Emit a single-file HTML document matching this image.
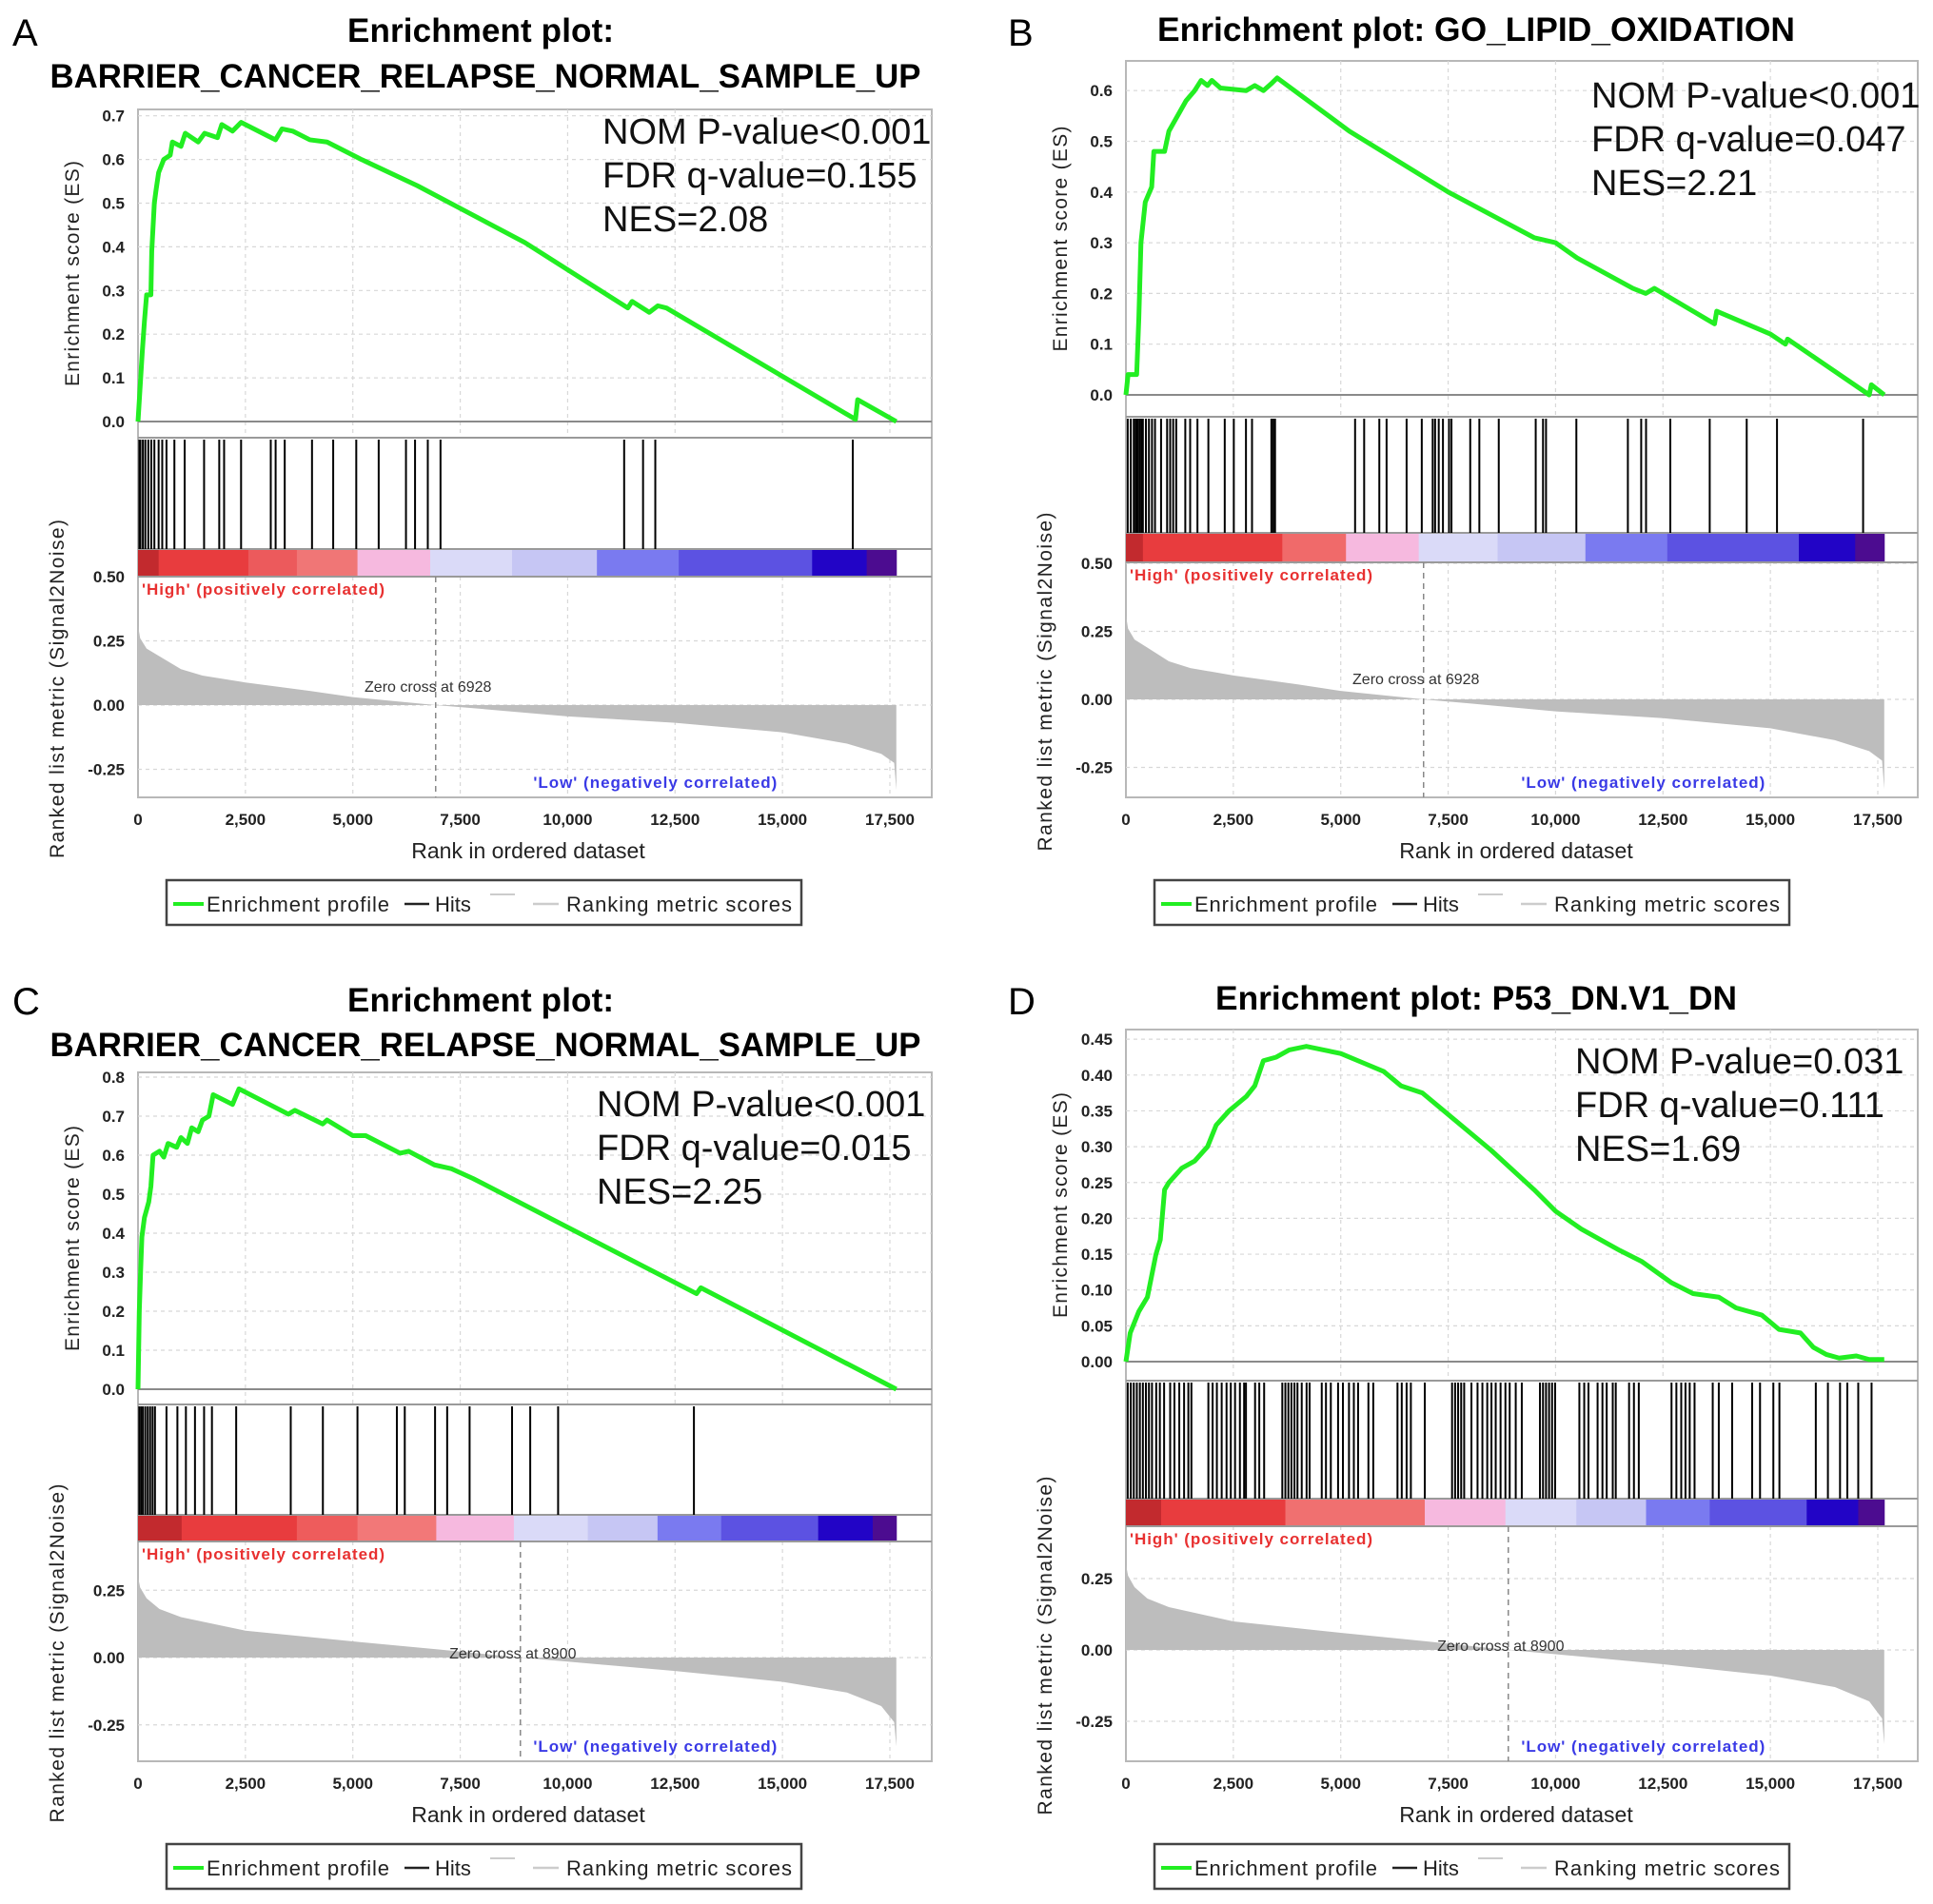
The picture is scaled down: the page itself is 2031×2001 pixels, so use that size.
<!DOCTYPE html>
<html><head><meta charset="utf-8"><style>
html,body{margin:0;padding:0;background:#fff;}
svg{display:block;}
text{font-family:"Liberation Sans",Arial,sans-serif;}
</style></head><body>
<svg id="fig" width="2031" height="2001" viewBox="0 0 2031 2001" xmlns="http://www.w3.org/2000/svg">
<rect x="0" y="0" width="2031" height="2001" fill="#fff"/>
<text x="13" y="48" font-size="40">A</text>
<text x="1059" y="48" font-size="40">B</text>
<text x="13" y="1066" font-size="40">C</text>
<text x="1059" y="1066" font-size="40">D</text>
<text x="505" y="44" font-size="35" font-weight="bold" text-anchor="middle" textLength="280">Enrichment plot:</text>
<text x="510" y="92" font-size="35" font-weight="bold" text-anchor="middle" textLength="915" lengthAdjust="spacingAndGlyphs">BARRIER_CANCER_RELAPSE_NORMAL_SAMPLE_UP</text>
<text x="1551" y="43" font-size="35" font-weight="bold" text-anchor="middle" textLength="670" lengthAdjust="spacingAndGlyphs">Enrichment plot: GO_LIPID_OXIDATION</text>
<text x="505" y="1063" font-size="35" font-weight="bold" text-anchor="middle" textLength="280">Enrichment plot:</text>
<text x="510" y="1110" font-size="35" font-weight="bold" text-anchor="middle" textLength="915" lengthAdjust="spacingAndGlyphs">BARRIER_CANCER_RELAPSE_NORMAL_SAMPLE_UP</text>
<text x="1551" y="1061" font-size="35" font-weight="bold" text-anchor="middle" textLength="548" lengthAdjust="spacingAndGlyphs">Enrichment plot: P53_DN.V1_DN</text>
</svg>
<script>
// ---------- shared axis data ----------
const xTicks = [0, 2500, 5000, 7500, 10000, 12500, 15000, 17500];
const xTickLabels = ['0', '2,500', '5,000', '7,500', '10,000', '12,500', '15,000', '17,500'];

// ---------- Panel A ----------
const esRanksA = [0,50,100,150,200,300,320,380,420,480,600,750,800,1000,1100,1400,1550,1850,1950,2200,2400,3000,3200,3350,3600,4000,4400,4700,5200,6500,9000,11400,11500,11900,12100,12300,16700,16750,17650];
const esValsA  = [0,0.08,0.16,0.23,0.29,0.29,0.39,0.5,0.53,0.57,0.6,0.61,0.64,0.63,0.66,0.64,0.66,0.65,0.68,0.665,0.685,0.655,0.645,0.67,0.665,0.645,0.64,0.625,0.6,0.54,0.41,0.26,0.275,0.25,0.265,0.26,0.005,0.05,0];
const hitsA = [30,56,113,170,240,310,381,480,564,663,847,1086,1538,1891,2004,2399,3090,3203,3415,4050,4543,5080,5602,6237,6448,6745,7041,11315,11755,12040,16636];
const esTicksA = [0,0.1,0.2,0.3,0.4,0.5,0.6,0.7];
const esTickLabelsA = ['0.0','0.1','0.2','0.3','0.4','0.5','0.6','0.7'];
const metricRanksA = [0,50,200,500,1000,1500,2500,4000,5000,6000,6928,8000,10000,12500,15000,16500,17300,17600,17650];
const metricValsA  = [0.31,0.26,0.22,0.19,0.14,0.115,0.088,0.055,0.031,0.015,0,-0.015,-0.044,-0.069,-0.106,-0.15,-0.19,-0.225,-0.33];
const mTicksA = [0.5,0.25,0,-0.25];
const mTickLabelsA = ['0.50','0.25','0.00','-0.25'];
const colorEndsA = [480,2568,3697,5108,6801,8706,10681,12586,15690,16960,17650];
const colorsA = ['#c22a2e','#e83c3e','#ec5a5c','#f07676','#f6b9df','#dadaf8','#c6c6f4','#7a7af0','#5c52e2','#2204c6','#4c0c90'];
const statsA = ['NOM P-value<0.001','FDR q-value=0.155','NES=2.08'];

// ---------- Panel B ----------
const esRanksB = [0,50,250,300,350,450,600,650,900,1000,1200,1400,1600,1750,1900,2000,2200,2800,3000,3200,3400,3520,5200,7500,9500,10000,10500,11800,12100,12300,13500,13700,13750,15000,15350,15400,17300,17350,17650];
const esValsB  = [0,0.04,0.04,0.15,0.3,0.38,0.41,0.48,0.48,0.52,0.55,0.58,0.6,0.62,0.61,0.62,0.605,0.6,0.61,0.6,0.615,0.625,0.52,0.4,0.31,0.3,0.27,0.21,0.2,0.21,0.15,0.14,0.165,0.12,0.1,0.11,0,0.02,0];
const hitsB = [42,113,183,226,254,282,325,367,395,466,536,607,677,818,959,1030,1100,1171,1382,1495,1665,1919,2300,2511,2794,2935,3386,3429,3471,5334,5545,5898,6067,6533,6886,7140,7196,7281,7379,7520,7577,8014,8226,8678,9538,9708,9778,10484,11683,11993,12106,12671,13588,14449,15154,17158];
const esTicksB = [0,0.1,0.2,0.3,0.4,0.5,0.6];
const esTickLabelsB = ['0.0','0.1','0.2','0.3','0.4','0.5','0.6'];
const metricRanksB = [0,50,200,500,1000,1500,2500,4000,5000,6000,6928,8000,10000,12500,15000,16500,17300,17600,17650];
const metricValsB  = [0.31,0.26,0.22,0.19,0.14,0.115,0.088,0.055,0.031,0.015,0,-0.015,-0.044,-0.069,-0.106,-0.15,-0.19,-0.225,-0.33];
const mTicksB = [0.5,0.25,0,-0.25];
const mTickLabelsB = ['0.50','0.25','0.00','-0.25'];
const colorEndsB = [395,3640,5122,6815,8650,10695,12600,15662,16974,17650];
const colorsB = ['#c22a2e','#e83c3e','#f06a6a','#f6b9df','#dadaf8','#c6c6f4','#7a7af0','#5c52e2','#2204c6','#4c0c90'];
const statsB = ['NOM P-value<0.001','FDR q-value=0.047','NES=2.21'];

// ---------- Panel C ----------
const esRanksC = [0,30,60,90,150,250,300,350,500,600,700,900,1000,1150,1250,1400,1500,1650,1750,2200,2350,3500,3650,4300,4400,5000,5300,6100,6300,6900,7300,7800,13000,13100,17650];
const esValsC  = [0,0.2,0.3,0.39,0.44,0.48,0.52,0.6,0.61,0.595,0.63,0.62,0.645,0.63,0.67,0.66,0.69,0.7,0.755,0.73,0.77,0.705,0.715,0.68,0.69,0.65,0.65,0.605,0.61,0.575,0.565,0.54,0.245,0.26,0];
const hitsC = [28,71,113,169,226,282,339,395,663,917,1115,1326,1538,1721,2285,3555,4303,5108,6025,6209,6914,7196,7718,8706,9129,9778,12939];
const esTicksC = [0,0.1,0.2,0.3,0.4,0.5,0.6,0.7,0.8];
const esTickLabelsC = ['0.0','0.1','0.2','0.3','0.4','0.5','0.6','0.7','0.8'];
const metricRanksC = [0,50,200,500,1000,2500,5000,7000,8900,10000,12500,15000,16500,17300,17600,17650];
const metricValsC  = [0.3,0.26,0.22,0.18,0.15,0.1,0.06,0.03,0,-0.015,-0.05,-0.09,-0.13,-0.18,-0.24,-0.33];
const mTicksC = [0.25,0,-0.25];
const mTickLabelsC = ['0.25','0.00','-0.25'];
const colorEndsC = [1016,3697,5108,6942,8748,10470,12092,13574,15831,17101,17650];
const colorsC = ['#c22a2e','#e83c3e','#ee5c5c','#f27878','#f6b9df','#dadaf8','#c6c6f4','#7a7af0','#5c52e2','#2204c6','#4c0c90'];
const statsC = ['NOM P-value<0.001','FDR q-value=0.015','NES=2.25'];

// ---------- Panel D ----------
const esRanksD = [0,100,300,500,700,800,900,1000,1300,1600,1900,2100,2400,2800,3000,3200,3500,3800,4200,4600,5000,5600,6000,6400,6900,7500,8500,9500,10000,10600,11500,12000,12700,13200,13800,14200,14800,15200,15700,16000,16300,16600,17000,17300,17650];
const esValsD  = [0,0.04,0.07,0.09,0.15,0.17,0.24,0.25,0.27,0.28,0.3,0.33,0.35,0.37,0.385,0.42,0.425,0.435,0.44,0.435,0.43,0.415,0.405,0.385,0.375,0.345,0.295,0.24,0.21,0.185,0.155,0.14,0.11,0.095,0.09,0.075,0.065,0.045,0.04,0.02,0.01,0.005,0.008,0.003,0.003];
const hitsD = [42,113,183,254,325,395,466,536,607,705,790,889,1030,1129,1242,1354,1453,1524,1919,2018,2117,2229,2342,2441,2540,2653,2751,2794,3006,3104,3217,3640,3711,3781,3852,3923,3993,4092,4205,4275,4558,4656,4769,4938,5051,5192,5305,5404,5644,5757,6321,6420,6533,6632,6956,7591,7662,7732,7803,7873,8042,8184,8297,8410,8508,8607,8720,8833,8932,9073,9214,9637,9708,9778,9849,9919,9990,10554,10667,10766,10978,11091,11190,11331,11401,11711,11824,11937,12699,12812,12925,13024,13122,13235,13658,13799,14110,14576,14759,15069,15210,16057,16339,16621,16791,17045,17355];
const esTicksD = [0,0.05,0.1,0.15,0.2,0.25,0.3,0.35,0.4,0.45];
const esTickLabelsD = ['0.00','0.05','0.10','0.15','0.20','0.25','0.30','0.35','0.40','0.45'];
const metricRanksD = [0,50,200,500,1000,2500,5000,7000,8900,10000,12500,15000,16500,17300,17600,17650];
const metricValsD  = [0.3,0.26,0.22,0.18,0.15,0.1,0.06,0.03,0,-0.015,-0.05,-0.09,-0.13,-0.18,-0.24,-0.33];
const mTicksD = [0.25,0,-0.25];
const mTickLabelsD = ['0.25','0.00','-0.25'];
const colorEndsD = [818,3711,6956,8833,10484,12106,13588,15845,17045,17650];
const colorsD = ['#c22a2e','#e83c3e','#f07070','#f6b9df','#dadaf8','#c6c6f4','#7a7af0','#5c52e2','#2204c6','#4c0c90'];
const statsD = ['NOM P-value=0.031','FDR q-value=0.111','NES=1.69'];

const NS = 'http://www.w3.org/2000/svg';
const svg = document.getElementById('fig');
function mk(tag, attrs, parent) {
  const el = document.createElementNS(NS, tag);
  for (const k in attrs) el.setAttribute(k, attrs[k]);
  (parent || svg).appendChild(el);
  return el;
}

function drawPanel(id, L, d) {
  const g = mk('g', {});
  
  
  const sx = 790 / 17500;
  const X = r => L.x0 + r * sx;
  const YE = v => L.es0 - v * L.esScale;
  const YM = v => L.m0 - v * L.mScale;
  const W = L.frameRight - L.x0;

  const frame = mk('rect', {x: L.x0, y: L.frameTop, width: W, height: L.axisY - L.frameTop, fill: '#fff', stroke: '#b8b8b8', 'stroke-width': 2}, g);
  
  

  xTicks.forEach((t, i) => {
    if (i === 0) return;
    const gl = mk('line', {x1: X(t), x2: X(t), y1: L.frameTop, y2: L.esBottom, stroke: '#d8d8d8', 'stroke-width': 1.2, 'stroke-dasharray': '4 4'}, g);
    
    
    const gm = mk('line', {x1: X(t), x2: X(t), y1: L.colorBottom, y2: L.axisY, stroke: '#d8d8d8', 'stroke-width': 1.2, 'stroke-dasharray': '4 4'}, g);
    
    
  });
  d.esTicks.forEach(t => {
    const gl = mk('line', {x1: L.x0, x2: L.frameRight, y1: YE(t), y2: YE(t), stroke: t === 0 ? '#8a8a8a' : '#d8d8d8', 'stroke-width': t === 0 ? 2 : 1.2, 'stroke-dasharray': t === 0 ? '' : '4 4'}, g);
    
    
  });
  d.mTicks.forEach(t => {
    const gl = mk('line', {x1: L.x0, x2: L.frameRight, y1: YM(t), y2: YM(t), stroke: '#d8d8d8', 'stroke-width': 1.2, 'stroke-dasharray': '4 4'}, g);
    
    
  });

  [L.esBottom, L.colorTop, L.colorBottom].forEach(yy => {
    const s = mk('line', {x1: L.x0, x2: L.frameRight, y1: yy, y2: yy, stroke: '#9a9a9a', 'stroke-width': 2}, g);
    
    
  });

  let p = 'M' + X(d.mRanks[0]) + ' ' + YM(0);
  d.mRanks.forEach((r, i) => { p += ' L' + X(r) + ' ' + YM(d.mVals[i]); });
  p += ' L' + X(d.mRanks[d.mRanks.length - 1]) + ' ' + YM(0) + ' Z';
  const area = mk('path', {d: p, fill: '#bdbdbd', stroke: 'none'}, g);
  
  

  const zl = mk('line', {x1: X(d.zero), x2: X(d.zero), y1: L.colorBottom, y2: L.axisY, stroke: '#888', 'stroke-width': 1.5, 'stroke-dasharray': '6 5'}, g);
  
  
  const zt = mk('text', {x: X(d.zero) - 8, y: L.m0 + L.zeroTextDy, 'font-size': 16, 'text-anchor': 'middle', fill: '#333'}, g);
  zt.textContent = 'Zero cross at ' + d.zero;
  
  

  let prev = 0;
  d.colorEnds.forEach((e, i) => {
    const c = mk('rect', {x: X(prev), y: L.colorTop + 1, width: X(e) - X(prev) + 0.5, height: L.colorBottom - L.colorTop - 2, fill: d.colors[i]}, g);
    
    
    prev = e;
  });

  d.hits.forEach(h => {
    const hl = mk('line', {x1: X(h), x2: X(h), y1: L.esBottom + 2, y2: L.colorTop, stroke: '#000', 'stroke-width': 2}, g);
    
    
  });

  const pts = d.esRanks.map((r, i) => X(r) + ',' + YE(d.esVals[i])).join(' ');
  const es = mk('polyline', {points: pts, fill: 'none', stroke: '#22ee22', 'stroke-width': 5, 'stroke-linejoin': 'round'}, g);
  
  

  const hi = mk('text', {x: L.x0 + 4, y: L.colorBottom + 19, 'font-size': 17, 'font-weight': 'bold', fill: '#e83030', textLength: 255}, g);
  hi.textContent = "'High' (positively correlated)";
  
  
  const lo = mk('text', {x: X(9200), y: L.axisY - 10, 'font-size': 17, 'font-weight': 'bold', fill: '#3a3ae6', textLength: 256}, g);
  lo.textContent = "'Low' (negatively correlated)";
  
  

  d.esTicks.forEach((t, i) => {
    const tt = mk('text', {x: L.x0 - 14, y: YE(t) + 6, 'font-size': 17, 'font-weight': 'bold', 'text-anchor': 'end', fill: '#222'}, g);
    tt.textContent = d.esTickLabels[i];
    
    
  });
  d.mTicks.forEach((t, i) => {
    const tt = mk('text', {x: L.x0 - 14, y: YM(t) + 6, 'font-size': 17, 'font-weight': 'bold', 'text-anchor': 'end', fill: '#222'}, g);
    tt.textContent = d.mTickLabels[i];
    
    
  });
  xTicks.forEach((t, i) => {
    const tt = mk('text', {x: X(t), y: L.axisY + 29, 'font-size': 17, 'font-weight': 'bold', 'text-anchor': 'middle', fill: '#222'}, g);
    tt.textContent = xTickLabels[i];
    
    
  });
  const xl = mk('text', {x: L.x0 + 410, y: L.axisY + 64, 'font-size': 23, 'text-anchor': 'middle', fill: '#222'}, g);
  xl.textContent = 'Rank in ordered dataset';
  
  

  const esCy = (L.frameTop + L.esBottom) / 2;
  const yt = mk('text', {x: 0, y: 0, 'font-size': 21, 'text-anchor': 'middle', fill: '#222', textLength: 237, transform: 'translate(' + (L.x0 - 62) + ',' + esCy + ') rotate(-90)'}, g);
  yt.textContent = 'Enrichment score (ES)';
  
  
  const mCy = (L.colorBottom + L.axisY) / 2 + 2;
  const mt = mk('text', {x: 0, y: 0, 'font-size': 21, 'text-anchor': 'middle', fill: '#222', textLength: 356, transform: 'translate(' + (L.x0 - 78) + ',' + mCy + ') rotate(-90)'}, g);
  mt.textContent = 'Ranked list metric (Signal2Noise)';
  
  

  d.stats.forEach((s, i) => {
    const st = mk('text', {x: L.statsX, y: L.statsY + i * 46 + 14, 'font-size': 38, fill: '#111'}, g);
    st.textContent = s;
    
    
  });

  const ly = L.axisY + 87;
  const lg = mk('g', {}, g);
  
  
  const lb = mk('rect', {x: L.x0 + 30, y: ly, width: 667, height: 47, fill: '#fff', stroke: '#444', 'stroke-width': 2.5}, lg);
  
  
  const cy = ly + 25;
  const l1 = mk('line', {x1: L.x0 + 37, x2: L.x0 + 69, y1: cy, y2: cy, stroke: '#22ee22', 'stroke-width': 4}, lg);
  
  
  const t1 = mk('text', {x: L.x0 + 72, y: cy + 8, 'font-size': 22, fill: '#222', textLength: 192}, lg);
  t1.textContent = 'Enrichment profile';
  
  
  const l2 = mk('line', {x1: L.x0 + 280, x2: L.x0 + 306, y1: cy, y2: cy, stroke: '#222', 'stroke-width': 2.5}, lg);
  
  
  const t2 = mk('text', {x: L.x0 + 312, y: cy + 8, 'font-size': 22, fill: '#222'}, lg);
  t2.textContent = 'Hits';
  
  
  const l3 = mk('line', {x1: L.x0 + 370, x2: L.x0 + 396, y1: cy - 10, y2: cy - 10, stroke: '#ccc', 'stroke-width': 2}, lg);
  
  
  const l4 = mk('line', {x1: L.x0 + 415, x2: L.x0 + 442, y1: cy, y2: cy, stroke: '#ccc', 'stroke-width': 2.5}, lg);
  
  
  const t4 = mk('text', {x: L.x0 + 450, y: cy + 8, 'font-size': 22, fill: '#222', textLength: 237}, lg);
  t4.textContent = 'Ranking metric scores';
  
  
}

drawPanel('a',
  {x0: 145, frameRight: 979, frameTop: 115, esBottom: 460, colorTop: 577, colorBottom: 606, axisY: 838, es0: 443, esScale: 459, m0: 741, mScale: 270, zeroTextDy: -14, statsX: 633, statsY: 137},
  {esRanks: esRanksA, esVals: esValsA, hits: hitsA, esTicks: esTicksA, esTickLabels: esTickLabelsA, mRanks: metricRanksA, mVals: metricValsA, mTicks: mTicksA, mTickLabels: mTickLabelsA, colorEnds: colorEndsA, colors: colorsA, stats: statsA, zero: 6928});
drawPanel('b',
  {x0: 1183, frameRight: 2015, frameTop: 64, esBottom: 438, colorTop: 560, colorBottom: 591, axisY: 838, es0: 415, esScale: 533, m0: 735, mScale: 286, zeroTextDy: -16, statsX: 1672, statsY: 99},
  {esRanks: esRanksB, esVals: esValsB, hits: hitsB, esTicks: esTicksB, esTickLabels: esTickLabelsB, mRanks: metricRanksB, mVals: metricValsB, mTicks: mTicksB, mTickLabels: mTickLabelsB, colorEnds: colorEndsB, colors: colorsB, stats: statsB, zero: 6928});
drawPanel('c',
  {x0: 145, frameRight: 979, frameTop: 1127, esBottom: 1476, colorTop: 1592, colorBottom: 1620, axisY: 1851, es0: 1460, esScale: 410, m0: 1742, mScale: 283, zeroTextDy: 1, statsX: 627, statsY: 1159},
  {esRanks: esRanksC, esVals: esValsC, hits: hitsC, esTicks: esTicksC, esTickLabels: esTickLabelsC, mRanks: metricRanksC, mVals: metricValsC, mTicks: mTicksC, mTickLabels: mTickLabelsC, colorEnds: colorEndsC, colors: colorsC, stats: statsC, zero: 8900});
drawPanel('d',
  {x0: 1183, frameRight: 2015, frameTop: 1082, esBottom: 1451, colorTop: 1575, colorBottom: 1604, axisY: 1851, es0: 1431, esScale: 753, m0: 1734, mScale: 300, zeroTextDy: 1, statsX: 1655, statsY: 1114},
  {esRanks: esRanksD, esVals: esValsD, hits: hitsD, esTicks: esTicksD, esTickLabels: esTickLabelsD, mRanks: metricRanksD, mVals: metricValsD, mTicks: mTicksD, mTickLabels: mTickLabelsD, colorEnds: colorEndsD, colors: colorsD, stats: statsD, zero: 8900});
</script>
</body></html>
